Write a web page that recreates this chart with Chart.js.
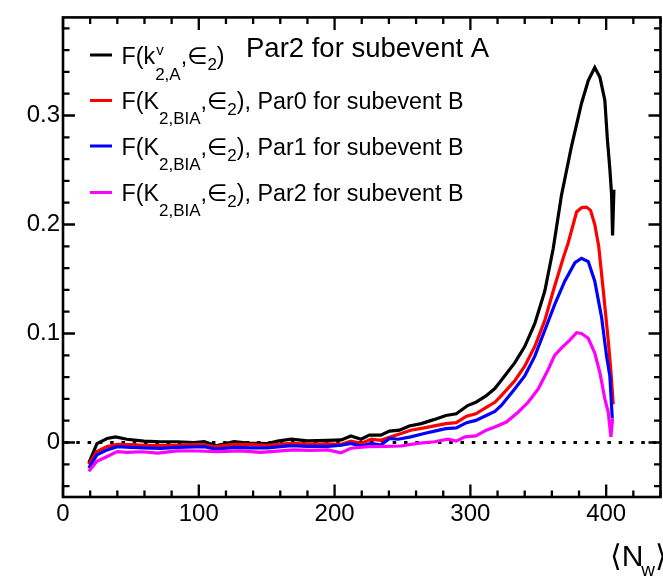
<!DOCTYPE html>
<html>
<head>
<meta charset="utf-8">
<script src="https://cdn.jsdelivr.net/npm/chart.js@4.4.1/dist/chart.umd.min.js"></script>
<style>
  html, body { margin: 0; padding: 0; background: #fff; }
  #wrap { width: 663px; height: 576px; }
</style>
</head>
<body>
<div id="wrap"><canvas id="c" width="663" height="576"></canvas></div>
<script>
// Subevent A, Par2: F(k^v_{2,A}, eps_2) versus <N_w>
const nwA  = [19, 25, 32.5, 38.7, 47, 59.6, 72, 84, 96.5, 104, 112.5, 126, 136, 150.6, 158, 168, 180, 195, 205, 212, 219.5, 225.5, 234, 240.4, 247.8, 255, 263.8, 273.6, 282, 289.6, 298, 304, 311.7, 318, 322.8, 332.6, 340, 347.4, 354.8, 361, 367.1, 374.5, 381.8, 386.8, 391.6, 395.4, 399, 400.9, 402.7, 404, 404.7, 405.7];
const valA = [-0.019, -0.001, 0.0037, 0.0052, 0.003, 0.0013, 0.0007, 0.0007, 0, 0.0007, -0.003, 0.0007, -0.0005, -0.0009, 0.0013, 0.003, 0.0015, 0.002, 0.0024, 0.006, 0.003, 0.0068, 0.0068, 0.0104, 0.0113, 0.0152, 0.0173, 0.0212, 0.0248, 0.0263, 0.0339, 0.0369, 0.043, 0.0495, 0.057, 0.073, 0.088, 0.109, 0.139, 0.178, 0.227, 0.272, 0.311, 0.332, 0.344, 0.335, 0.314, 0.278, 0.251, 0.227, 0.19, 0.232];

// Subevent B, Par0: F(K_{2,B|A}, eps_2)
const nwB0  = [19, 25, 32.5, 39.9, 50, 60, 72, 84, 101, 112.5, 126, 138, 150.6, 168, 180, 195, 205, 212, 219.5, 227, 234, 241.5, 249, 256, 266, 273.6, 282, 289.6, 297.2, 304, 311.7, 318, 322.8, 332.6, 340, 347.4, 354.8, 361, 368.3, 372, 378.2, 382, 385.5, 388.5, 391.6, 394.5, 397.9, 401.5, 403.5, 405.2];
const valB0 = [-0.0203, -0.0083, -0.0038, -0.0017, -0.002, -0.0025, -0.0029, -0.0025, -0.0017, -0.0038, -0.0017, -0.002, -0.0025, -0.0008, -0.0015, -0.0012, -0.0017, 0.0013, -0.0008, 0.003, 0.002, 0.0052, 0.0082, 0.0113, 0.0134, 0.0152, 0.0173, 0.0182, 0.0242, 0.0263, 0.0323, 0.0369, 0.043, 0.0565, 0.07, 0.088, 0.112, 0.139, 0.169, 0.183, 0.2115, 0.2155, 0.216, 0.213, 0.2, 0.18, 0.139, 0.094, 0.065, 0.035];

// Subevent B, Par1
const nwB1  = [19, 25, 32.5, 39.9, 50, 60, 72, 84, 104, 112.5, 126, 138, 150.6, 168, 180, 195, 205, 212, 219.5, 227, 234, 240.4, 246.8, 256, 266, 273.6, 282, 289.6, 297.2, 304, 311.7, 318, 322.8, 332.6, 340, 347.4, 354.8, 362.2, 369.5, 377, 381.8, 386.8, 391.6, 396.6, 400.3, 402.7, 404.5];
const valB1 = [-0.0234, -0.0113, -0.0068, -0.0038, -0.0045, -0.005, -0.0053, -0.0045, -0.0038, -0.006, -0.0045, -0.005, -0.005, -0.0029, -0.0035, -0.0035, -0.0025, -0.0008, -0.0032, -0.0008, -0.0023, 0.0037, 0.003, 0.0052, 0.0082, 0.0104, 0.0127, 0.0134, 0.0182, 0.0203, 0.0248, 0.0285, 0.034, 0.049, 0.061, 0.079, 0.103, 0.127, 0.148, 0.165, 0.169, 0.166, 0.148, 0.115, 0.079, 0.061, 0.022];

// Subevent B, Par2
const nwB2  = [19, 25, 32.5, 39.9, 47, 58, 69.8, 84, 100, 113, 131, 145.5, 158, 170, 182, 195, 204.6, 212, 224.6, 237, 249, 261, 273.6, 283.5, 289.6, 296, 304, 311.7, 318, 326.5, 335.1, 342.5, 349.9, 357.3, 362, 367, 373.2, 378.2, 381.8, 386.8, 391.6, 395.4, 399, 401.5, 403.5, 404.7];
const valB2 = [-0.0264, -0.0173, -0.0128, -0.0083, -0.009, -0.0085, -0.0098, -0.0077, -0.0078, -0.0083, -0.0077, -0.009, -0.008, -0.0068, -0.0072, -0.0068, -0.0095, -0.0053, -0.0038, -0.0036, -0.0032, -0.0008, 0.0007, 0.003, 0.0013, 0.0052, 0.006, 0.0113, 0.0143, 0.0188, 0.0278, 0.0369, 0.049, 0.067, 0.08, 0.0865, 0.094, 0.1007, 0.1, 0.0956, 0.082, 0.064, 0.04, 0.028, 0.0052, 0.0218];

const xTickValues = [0, 100, 200, 300, 400];
const yTickValues = [0, 0.1, 0.2, 0.3];

const seriesColors = ['#000000', '#ff0000', '#0000ff', '#ff00ff'];
const headerText = 'Par2 for subevent A';
const parLabels = ['Par0 for subevent B', 'Par1 for subevent B', 'Par2 for subevent B'];

const FONT = '"Liberation Sans", Arial, Helvetica, "DejaVu Sans", sans-serif';

function pts(xs, ys) { return xs.map((x, i) => ({ x: x, y: ys[i] })); }

// frame, inward ticks on all four sides and the dotted zero line
const framePlugin = {
  id: 'frame',
  beforeDatasetsDraw(chart) {
    const { ctx, chartArea: a, scales: { y } } = chart;
    const y0 = y.getPixelForValue(0);
    ctx.save();
    ctx.strokeStyle = '#000';
    ctx.lineWidth = 3;
    ctx.setLineDash([3.5, 7.8]);
    ctx.beginPath();
    ctx.moveTo(a.left + 2, y0);
    ctx.lineTo(a.right, y0);
    ctx.stroke();
    ctx.restore();
  },
  afterDatasetsDraw(chart) {
    const { ctx, chartArea: a, scales: { x, y } } = chart;
    ctx.save();
    ctx.strokeStyle = '#000';
    ctx.lineWidth = 2.6;
    ctx.strokeRect(a.left, a.top, a.right - a.left, a.bottom - a.top);
    ctx.lineWidth = 2.3;
    ctx.beginPath();
    for (let k = 0; k <= 22; k++) {
      const px = x.getPixelForValue(k * 20);
      const len = k % 5 === 0 ? 12.5 : 6.5;
      ctx.moveTo(px, a.bottom); ctx.lineTo(px, a.bottom - len);
      ctx.moveTo(px, a.top); ctx.lineTo(px, a.top + len);
    }
    for (let k = -2; k <= 19; k++) {
      const py = y.getPixelForValue(k * 0.02);
      const len = k % 5 === 0 ? 12 : 6.5;
      ctx.moveTo(a.left, py); ctx.lineTo(a.left + len, py);
      ctx.moveTo(a.right, py); ctx.lineTo(a.right - len, py);
    }
    ctx.stroke();
    ctx.restore();
  }
};

// draws a run of text pieces: plain, subscript, superscript, or stacked sup/sub
function drawRich(ctx, x, base, parts, mainSize, subSize) {
  ctx.textAlign = 'left';
  ctx.textBaseline = 'alphabetic';
  for (const p of parts) {
    if (p.t !== undefined) {
      ctx.font = mainSize + 'px ' + FONT;
      ctx.fillText(p.t, x, base);
      x += ctx.measureText(p.t).width;
    } else {
      ctx.font = subSize + 'px ' + FONT;
      let w = 0;
      if (p.sub !== undefined) {
        ctx.fillText(p.sub, x, base + p.dy);
        w = Math.max(w, ctx.measureText(p.sub).width);
      }
      if (p.sup !== undefined) {
        ctx.font = (subSize - 2) + 'px ' + FONT;
        ctx.fillText(p.sup, x + 1, base - 9);
        w = Math.max(w, ctx.measureText(p.sup).width);
      }
      x += w;
    }
  }
  return x;
}

const textPlugin = {
  id: 'texts',
  afterDraw(chart) {
    const { ctx } = chart;
    ctx.save();
    ctx.fillStyle = '#000';

    // header
    ctx.font = '27.5px ' + FONT;
    ctx.textBaseline = 'alphabetic';
    ctx.fillText(headerText, 246, 57);

    // legend
    const rows = [55, 100.5, 146, 192.5];
    const entries = [
      [{ t: 'F(k' }, { sup: 'v', sub: '2,A', dy: 16 }, { t: ',' }, { t: '\u2208' }, { sub: '2', dy: 6 }, { t: ')' }]
    ];
    parLabels.forEach(lbl => {
      entries.push([{ t: 'F(K' }, { sub: '2,BIA', dy: 15 }, { t: ',' }, { t: '\u2208' }, { sub: '2', dy: 6 }, { t: '), ' + lbl }]);
    });
    entries.forEach((parts, i) => {
      const yy = rows[i];
      ctx.strokeStyle = seriesColors[i];
      ctx.lineWidth = 3;
      ctx.beginPath();
      ctx.moveTo(90, yy); ctx.lineTo(112, yy);
      ctx.stroke();
      drawRich(ctx, 121.5, yy + 8.5, parts, 23.3, 17);
    });

    // x-axis title <N_w>
    ctx.font = '30px ' + FONT;
    let xx = 610;
    ctx.fillText('\u27E8', xx, 566); xx += ctx.measureText('\u27E8').width;
    ctx.fillText('N', xx, 566); xx += ctx.measureText('N').width;
    ctx.font = '19px ' + FONT;
    ctx.fillText('w', xx - 2, 576); xx += ctx.measureText('w').width - 2;
    ctx.font = '30px ' + FONT;
    ctx.fillText('\u27E9', xx, 566);
    ctx.restore();
  }
};

const datasets = [
  { data: pts(nwA, valA),   borderColor: seriesColors[0], order: 3 },
  { data: pts(nwB0, valB0), borderColor: seriesColors[1], order: 2 },
  { data: pts(nwB1, valB1), borderColor: seriesColors[2], order: 1 },
  { data: pts(nwB2, valB2), borderColor: seriesColors[3], order: 0 }
].map(d => Object.assign(d, { borderWidth: 3.2, pointRadius: 0, tension: 0, fill: false }));

new Chart(document.getElementById('c'), {
  type: 'line',
  data: { datasets },
  options: {
    responsive: false,
    animation: false,
    devicePixelRatio: 1,
    layout: { padding: { top: 9, right: 2.5, left: 0, bottom: 0 } },
    plugins: { legend: { display: false }, tooltip: { enabled: false } },
    scales: {
      x: {
        type: 'linear', min: 0, max: 440,
        grid: { display: false, drawTicks: false },
        border: { display: false },
        afterBuildTicks: s => { s.ticks = xTickValues.map(v => ({ value: v })); },
        afterFit: s => { s.height = 79; },
        ticks: { color: '#000', font: { family: FONT, size: 24 }, padding: 3, maxRotation: 0, autoSkip: false, callback: v => String(v) }
      },
      y: {
        type: 'linear', min: -0.05, max: 0.39,
        grid: { display: false, drawTicks: false },
        border: { display: false },
        afterBuildTicks: s => { s.ticks = yTickValues.map(v => ({ value: v })); },
        afterFit: s => { s.width = 63; },
        ticks: { color: '#000', font: { family: FONT, size: 24 }, padding: 3, autoSkip: false, callback: v => String(v) }
      }
    }
  },
  plugins: [framePlugin, textPlugin]
});
</script>
</body>
</html>
